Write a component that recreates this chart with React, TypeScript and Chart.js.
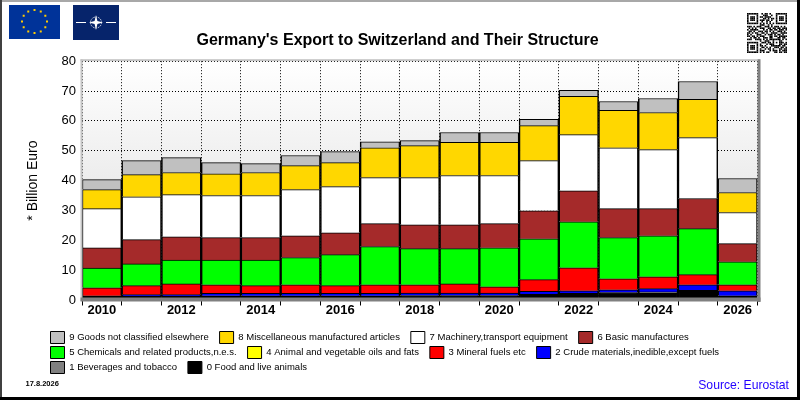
import React, { useEffect, useRef } from "react";
import { Chart, registerables } from "chart.js";

Chart.register(...registerables);

const years = ["2010","2011","2012","2013","2014","2015","2016","2017","2018","2019","2020","2021","2022","2023","2024","2025","2026"];
const food =      [1.4,1.2,1.2,1.4,1.4,1.4,1.4,1.4,1.5,1.5,1.5,2.0,2.2,2.5,2.3,3.2,1.4];
const beverages = [0,0,0,0,0,0,0,0,0,0,0,0,0,0,0.4,0,0];
const crude =     [0,0.6,0.6,0.8,0.8,0.8,0.8,0.8,0.8,0.8,0.8,0.9,0.9,0.9,1.1,1.9,1.7];
const mineral =   [2.7,3.0,3.6,2.9,2.6,2.9,2.6,2.9,2.8,3.1,2.1,3.9,7.7,3.7,4.0,3.4,2.0];
const oils =      [0,0,0,0,0,0,0,0,0,0,0,0,0,0,0,0,0];
const chemicals = [6.6,7.3,8.0,8.3,8.6,9.1,10.4,12.8,12.1,11.8,13.1,13.7,15.4,13.8,13.7,15.4,7.7];
const basic =     [6.8,8.1,7.8,7.5,7.5,7.3,7.3,7.7,8.0,8.0,8.1,9.4,10.4,9.7,9.1,10.1,6.1];
const machinery = [13.1,14.4,14.1,14.1,14.1,15.5,15.5,15.4,15.8,16.5,16.1,16.8,18.8,20.4,19.8,20.4,10.4];
const misc =      [6.4,7.4,7.4,7.3,7.7,8.0,8.0,10.0,10.7,11.1,11.1,11.7,12.8,12.5,12.4,12.8,6.7];
const goods =     [3.3,4.7,5.0,3.7,3.0,3.4,3.7,2.0,1.7,3.3,3.3,2.1,2.0,3.0,4.7,6.0,4.7];

const seriesLabels = [
  "0 Food and live animals",
  "1 Beverages and tobacco",
  "2 Crude materials,inedible,except fuels",
  "3 Mineral fuels etc",
  "4 Animal and vegetable oils and fats",
  "5 Chemicals and related products,n.e.s.",
  "6 Basic manufactures",
  "7 Machinery,transport equipment",
  "8 Miscellaneous manufactured articles",
  "9 Goods not classified elsewhere",
];
const seriesValues = [food, beverages, crude, mineral, oils, chemicals, basic, machinery, misc, goods];
const seriesColors = ["#000000","#808080","#0000FF","#FF0000","#FFFF00","#00FF00","#A52A2A","#FFFFFF","#FFD700","#C0C0C0"];

const FONT = "'Liberation Sans', Arial, sans-serif";

const qrRows = [
  "1111111001011010001111111",
  "1000001000111001001000001",
  "1011101011011110001011101",
  "1011101000110101101011101",
  "1011101011101101001011101",
  "1000001001001010001000001",
  "1111111010101010101111111",
  "0000000011100101000000000",
  "1110101110011101011101010",
  "0101010011100110110110111",
  "1011111000101011011011101",
  "0110100111011010100111010",
  "1101011001101001111001111",
  "1010001110010111010110100",
  "1101101011100011011011111",
  "0010110100111011000110110",
  "1110011110101011111110101",
  "0000000010011100100011000",
  "1111111001110110101011101",
  "1000001010001011100011011",
  "1011101011010001111110110",
  "1011101001101010011101101",
  "1011101010010110100011011",
  "1000001011100010111010111",
  "1111111010101100011011011",
];

const decorations = {
  id: "decorations",
  afterLayout(chart: any) {
    const leg = chart.legend;
    if (leg) {
      const h = leg.height;
      leg.left = 47.5;
      leg.right = 800;
      leg.top = 328.5;
      leg.bottom = 328.5 + h;
    }
    const t = chart.titleBlock;
    if (t) {
      t.left = 0;
      t.right = 795;
      t.top += 1;
      t.bottom += 1;
    }
  },
  beforeDraw(chart: any) {
    const { ctx, chartArea: a } = chart;
    ctx.save();
    ctx.fillStyle = "#FFFFFF";
    ctx.fillRect(0, 0, 800, 400);
    const g = ctx.createLinearGradient(0, a.top, 0, a.bottom);
    g.addColorStop(0, "#FFFFFF");
    g.addColorStop(1, "#DADADA");
    ctx.fillStyle = g;
    ctx.fillRect(a.left, a.top, a.right - a.left, a.bottom - a.top);
    ctx.restore();
  },
  afterDatasetsDraw(chart: any) {
    const { ctx, chartArea: a } = chart;
    ctx.save();
    ctx.fillStyle = "#C4C4C4";
    ctx.fillRect(a.left - 1.5, a.top - 2, a.right - a.left + 1.5, 2);
    ctx.fillRect(a.left - 1.5, a.top - 2, 2, a.bottom - a.top + 3);
    ctx.fillStyle = "#808080";
    ctx.fillRect(a.right, a.top - 2, 3, a.bottom - a.top + 4);
    ctx.fillRect(a.left - 1.5, a.bottom - 2.5, a.right - a.left + 4.5, 4);
    ctx.restore();
  },
  afterDraw(chart: any) {
    const { ctx } = chart;
    ctx.save();
    // window frame
    ctx.fillStyle = "#A8A8A8";
    ctx.fillRect(0, 0, 800, 2);
    ctx.fillStyle = "#404040";
    ctx.fillRect(0, 0, 2, 400);
    ctx.fillStyle = "#000000";
    ctx.fillRect(797, 0, 3, 400);
    ctx.fillRect(0, 397, 800, 3);
    // EU flag
    ctx.fillStyle = "#003399";
    ctx.fillRect(9, 5, 51, 34);
    ctx.fillStyle = "#FFCC00";
    for (let i = 0; i < 12; i++) {
      const an = (i * Math.PI) / 6;
      const x = 34.5 + 12.5 * Math.sin(an);
      const y = 21.5 - 11.5 * Math.cos(an);
      ctx.fillRect(x - 1, y - 1, 2, 2);
    }
    // NATO flag
    ctx.fillStyle = "#06246B";
    ctx.fillRect(73, 5, 46, 35);
    ctx.fillStyle = "#FFFFFF";
    ctx.fillRect(76, 22, 10, 1);
    ctx.fillRect(106, 22, 10, 1);
    ctx.strokeStyle = "#FFFFFF";
    ctx.lineWidth = 0.8;
    ctx.setLineDash([1.5, 1]);
    ctx.beginPath();
    ctx.arc(96, 22.5, 5.5, 0, Math.PI * 2);
    ctx.stroke();
    ctx.setLineDash([]);
    ctx.beginPath();
    ctx.moveTo(96, 15);
    ctx.lineTo(97.4, 21);
    ctx.lineTo(103, 22.5);
    ctx.lineTo(97.4, 24);
    ctx.lineTo(96, 30);
    ctx.lineTo(94.6, 24);
    ctx.lineTo(89, 22.5);
    ctx.lineTo(94.6, 21);
    ctx.closePath();
    ctx.fill();
    // QR code
    ctx.fillStyle = "#000000";
    const m = 40 / 25;
    qrRows.forEach((row, r) => {
      for (let c = 0; c < row.length; c++) {
        if (row[c] === "1") ctx.fillRect(747 + c * m, 13 + r * m, m, m);
      }
    });
    // footer texts
    ctx.textBaseline = "middle";
    ctx.textAlign = "left";
    ctx.fillStyle = "#000000";
    ctx.font = `bold 7.5px ${FONT}`;
    ctx.fillText("17.8.2026", 25.5, 384);
    ctx.fillStyle = "#2200FF";
    ctx.textAlign = "right";
    ctx.font = `12.2px ${FONT}`;
    ctx.fillText("Source: Eurostat", 789, 386);
    ctx.restore();
  },
};

export default function App() {
  const ref = useRef<HTMLCanvasElement | null>(null);

  useEffect(() => {
    if (!ref.current) return;
    const chart = new Chart(ref.current, {
      type: "bar",
      data: {
        labels: years,
        datasets: seriesLabels.map((label, i) => ({
          label,
          data: seriesValues[i],
          backgroundColor: seriesColors[i],
          borderColor: "#000000",
          borderWidth: { top: 1, bottom: 0, left: 1.5, right: 1.5 },
          borderSkipped: false,
          barPercentage: 1,
          categoryPercentage: 1,
        })),
      },
      options: {
        responsive: false,
        animation: false,
        layout: { padding: { left: 25, right: 42.5, top: 30, bottom: 17 } },
        plugins: {
          tooltip: { enabled: false },
          title: {
            display: true,
            text: "Germany's Export to Switzerland and Their Structure",
            color: "#000000",
            font: { family: FONT, size: 16, weight: "bold" },
            padding: { top: 0, bottom: 12 },
          },
          legend: {
            display: true,
            position: "bottom",
            align: "start",
            reverse: true,
            labels: {
              color: "#000000",
              boxWidth: 14,
              boxHeight: 12,
              padding: 3,
              font: { family: FONT, size: 9.5 },
              generateLabels(c: any) {
                return Chart.defaults.plugins.legend.labels.generateLabels(c).map((it: any) => ({
                  ...it,
                  text: it.text + "   ",
                  lineWidth: 1,
                }));
              },
            },
          },
        },
        scales: {
          x: {
            stacked: true,
            afterFit(s: any) { s.height = 28; },
            grid: {
              color: "#000000",
              lineWidth: 1,
              drawTicks: true,
              tickLength: 5.5,
              tickColor: "#000000",
              tickBorderDash: [],
            },
            border: { display: false, dash: [1, 2] },
            ticks: {
              color: "#000000",
              autoSkip: false,
              maxRotation: 0,
              padding: -3,
              font: { family: FONT, size: 13, weight: "bold" },
              callback(this: any, _v: any, i: number) {
                return i % 2 === 0 ? years[i] : "";
              },
            },
          },
          y: {
            stacked: true,
            min: 0,
            max: 80,
            afterFit(s: any) { s.width = 57; },
            grid: { color: "#000000", lineWidth: 1, drawTicks: false },
            border: { display: false, dash: [1, 2] },
            ticks: {
              color: "#000000",
              stepSize: 10,
              padding: 6,
              font: { family: FONT, size: 13 },
            },
            title: {
              display: true,
              text: "* Billion Euro",
              color: "#000000",
              padding: 0,
              font: { family: FONT, size: 14 },
            },
          },
        },
      },
      plugins: [decorations],
    } as any);
    return () => chart.destroy();
  }, []);

  return (
    <div style={{ position: "absolute", left: 0, top: 0, width: 800, height: 400 }}>
      <canvas ref={ref} width={800} height={400} style={{ display: "block" }} />
    </div>
  );
}
